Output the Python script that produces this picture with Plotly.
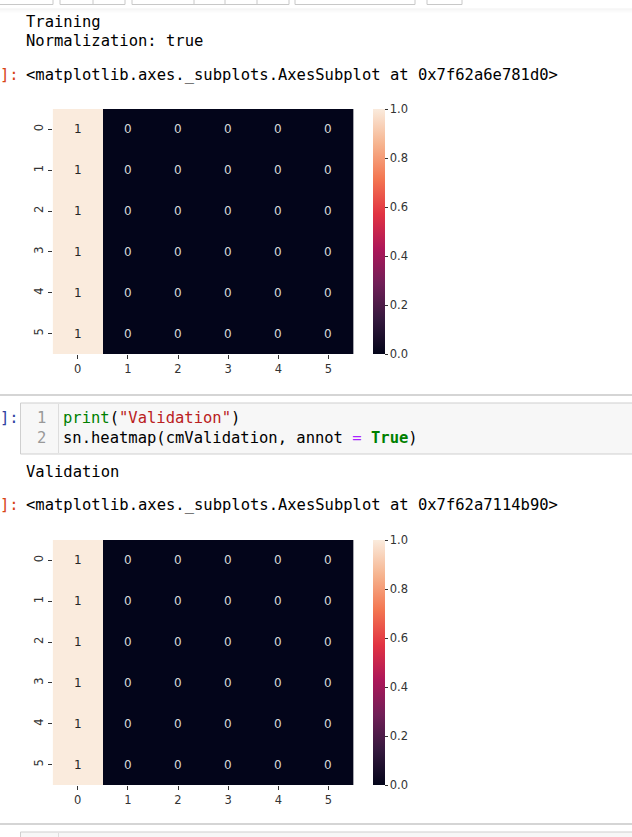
import plotly.graph_objects as go

W, H = 632, 837

# ---- data ----
labels = [0, 1, 2, 3, 4, 5]
cm_training = [
    [1, 0, 0, 0, 0, 0],
    [1, 0, 0, 0, 0, 0],
    [1, 0, 0, 0, 0, 0],
    [1, 0, 0, 0, 0, 0],
    [1, 0, 0, 0, 0, 0],
    [1, 0, 0, 0, 0, 0],
]
cm_validation = [
    [1, 0, 0, 0, 0, 0],
    [1, 0, 0, 0, 0, 0],
    [1, 0, 0, 0, 0, 0],
    [1, 0, 0, 0, 0, 0],
    [1, 0, 0, 0, 0, 0],
    [1, 0, 0, 0, 0, 0],
]
cbar_ticks = [0.0, 0.2, 0.4, 0.6, 0.8, 1.0]

rocket = [
    [0.0, "#03051a"], [0.143, "#35193e"], [0.286, "#701f57"],
    [0.429, "#ad1759"], [0.571, "#e13342"], [0.714, "#f37651"],
    [0.857, "#f6b48f"], [1.0, "#faebdd"],
]


def fx(x):
    return x / W


def fy(y):
    return 1 - y / H


fig = go.Figure()

MONO = "DejaVu Sans Mono"
SANS = "DejaVu Sans"
TXT = "#262626"

panels = [
    (cm_training, "x", "y", 109, 354),
    (cm_validation, "x2", "y2", 540, 785),
]
ax_left, ax_right = 52.7, 353.5
annotations = []
for k, (cm, xa, ya, top, bot) in enumerate(panels):
    fig.add_trace(go.Heatmap(
        z=cm, x=labels, y=labels, xaxis=xa, yaxis=ya,
        colorscale=rocket, zmin=0, zmax=1, hoverinfo="skip",
        colorbar=dict(
            x=fx(373), xanchor="left", xpad=0, ypad=0,
            y=fy((top + bot) / 2), yanchor="middle",
            len=bot - top, lenmode="pixels",
            thickness=12, thicknessmode="pixels",
            outlinewidth=0, ticks="outside", ticklen=3, tickwidth=1,
            tickcolor="#333", tickvals=cbar_ticks, tickformat=".1f",
            tickfont=dict(family=SANS, size=11.5, color="#333"),
        ),
    ))
    sfx = "" if k == 0 else "2"
    axcommon = dict(showgrid=False, zeroline=False, ticks="outside", ticklen=4,
                    tickwidth=1, tickcolor="#333", showline=False,
                    tickfont=dict(family=SANS, size=11.5, color="#333"),
                    tickvals=labels, ticktext=[str(v) for v in labels])
    fig.update_layout(**{
        "xaxis" + sfx: dict(axcommon, domain=[fx(ax_left), fx(ax_right)],
                            range=[-0.5, 5.5], anchor="y" + sfx),
        "yaxis" + sfx: dict(axcommon, domain=[fy(bot), fy(top)],
                            range=[5.5, -0.5], anchor="x" + sfx, tickangle=-90),
    })
    for i, row in enumerate(cm):
        for j, v in enumerate(row):
            annotations.append(dict(
                x=labels[j], y=labels[i], xref=xa, yref=ya, text=f"{v:g}",
                showarrow=False,
                font=dict(family=SANS, size=12,
                          color=TXT if v > 0.5 else "#d9d9d9")))

# ---- notebook text ----
def note(x, y, text, color="#000", size=15.5, anchor="left"):
    annotations.append(dict(x=fx(x), y=fy(y), xref="paper", yref="paper",
                            text=text, showarrow=False, xanchor=anchor,
                            yanchor="middle",
                            font=dict(family=MONO, size=size, color=color)))

note(24, 22, "Training")
note(24, 41, "Normalization: true")
note(-2, 75, "]:", color="#D84315")
note(24, 75, "&lt;matplotlib.axes._subplots.AxesSubplot at 0x7f62a6e781d0&gt;")

note(-2, 418, "]:", color="#303F9F")
note(48, 418, "1", color="#999", anchor="right")
note(48, 438, "2", color="#999", anchor="right")
note(61, 418, "<span style='color:#008000'>print</span>(<span style='color:#BA2121'>\"Validation\"</span>)")
note(61, 438, "sn.heatmap(cmValidation, annot <span style='color:#AA22FF'>=</span> "
              "<b><span style='color:#008000'>True</span></b>)")
note(24, 472, "Validation")
note(-2, 505, "]:", color="#D84315")
note(24, 505, "&lt;matplotlib.axes._subplots.AxesSubplot at 0x7f62a7114b90&gt;")

shapes = []
# toolbar buttons at the top
for x0, x1 in [(-5, 53), (60, 125), (132, 289), (295, 415), (427, 462)]:
    shapes.append(dict(type="rect", xref="paper", yref="paper",
                       x0=fx(x0), x1=fx(x1), y0=fy(4.5), y1=fy(-5),
                       line=dict(color="#c8c8c8", width=1), fillcolor="#ffffff"))
for xd in [93, 194, 225, 257]:
    shapes.append(dict(type="line", xref="paper", yref="paper",
                       x0=fx(xd), x1=fx(xd), y0=fy(4.5), y1=fy(-1),
                       line=dict(color="#c8c8c8", width=1)))
# header shadow
for k, c in enumerate(["#f0f0f0", "#f4f4f4", "#f8f8f8", "#fbfbfb"]):
    shapes.append(dict(type="line", xref="paper", yref="paper",
                       x0=0, x1=1, y0=fy(9 + k), y1=fy(9 + k),
                       line=dict(color=c, width=1)))
# cell separators
for ys in [395, 824]:
    shapes.append(dict(type="line", xref="paper", yref="paper",
                       x0=0, x1=1, y0=fy(ys), y1=fy(ys),
                       line=dict(color="#ababab", width=1)))
# code cell boxes
for y0, y1 in [(403, 454), (832, 860)]:
    shapes.append(dict(type="rect", xref="paper", yref="paper",
                       x0=fx(20.5), x1=fx(640), y0=fy(y1), y1=fy(y0),
                       line=dict(color="#cfcfcf", width=1), fillcolor="#f7f7f7",
                       layer="below"))
    shapes.append(dict(type="line", xref="paper", yref="paper",
                       x0=fx(58.5), x1=fx(58.5), y0=fy(y1 - 1), y1=fy(y0 + 1),
                       line=dict(color="#dddddd", width=1), layer="below"))

fig.update_layout(
    width=W, height=H, margin=dict(l=0, r=0, t=0, b=0),
    paper_bgcolor="white", plot_bgcolor="white",
    annotations=annotations, shapes=shapes, showlegend=False,
)

fig.write_html("out.html")
